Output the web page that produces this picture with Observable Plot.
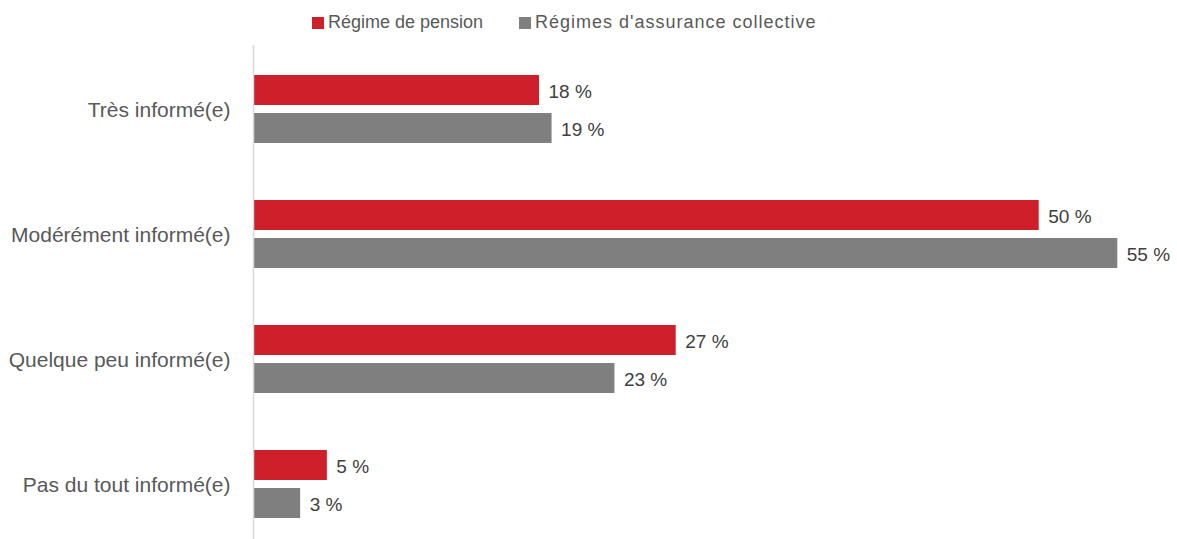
<!DOCTYPE html>
<html>
<head>
<meta charset="utf-8">
<script src="https://cdn.jsdelivr.net/npm/d3@7"></script>
<script src="https://cdn.jsdelivr.net/npm/@observablehq/plot@0.6"></script>
<style>
  html, body { margin: 0; padding: 0; background: #fff; }
  body { width: 1177px; height: 539px; overflow: hidden; font-family: "Liberation Sans", Arial, sans-serif; }
  #legend { position: relative; height: 45px; font-size: 18px; color: #595959; }
  #legend .item { position: absolute; top: 12px; display: flex; align-items: center; gap: 4px; white-space: nowrap; }
  #legend .sw { width: 12px; height: 12px; display: inline-block; }
</style>
</head>
<body>
<div id="legend"></div>
<div id="chart"></div>
<script>
const categories = ["Très informé(e)", "Modérément informé(e)", "Quelque peu informé(e)", "Pas du tout informé(e)"];
const series = ["Régime de pension", "Régimes d'assurance collective"];
const colors = ["#CE1F2A", "#7F7F7F"];
const pensionValues = [18.2, 50.0, 26.9, 4.7];
const assuranceValues = [19.0, 55.0, 23.0, 3.0];

const pension = categories.map((c, i) => ({category: c, value: pensionValues[i], label: Math.round(pensionValues[i]) + " %"}));
const assurance = categories.map((c, i) => ({category: c, value: assuranceValues[i], label: Math.round(assuranceValues[i]) + " %"}));

// legend
const legendLeft = [312, 519];
const legendSpacing = ["0px", "1px"];
const legend = document.getElementById("legend");
series.forEach((s, i) => {
  const item = document.createElement("span");
  item.className = "item";
  item.style.left = legendLeft[i] + "px";
  const sw = document.createElement("span");
  sw.className = "sw";
  sw.style.background = colors[i];
  const t = document.createElement("span");
  t.textContent = s;
  t.style.letterSpacing = legendSpacing[i];
  item.appendChild(sw);
  item.appendChild(t);
  legend.appendChild(item);
});

const barH = 30;
const gap = 8;
const band = barH * 2 + gap; // 68
const step = 125;
const pInner = (step - band) / step;

const chart = Plot.plot({
  width: 1177,
  height: 494,
  marginLeft: 253,
  marginRight: 0,
  marginTop: 0,
  marginBottom: 0,
  style: {fontFamily: "'Liberation Sans', Arial, sans-serif", background: "#fff"},
  x: {domain: [0, 58.8], axis: null},
  y: {domain: categories, range: [1.5, 501.5], paddingInner: pInner, paddingOuter: pInner / 2, align: 0.5, round: false, label: null},
  marks: [
    Plot.axisY({tickSize: 0, tickPadding: 23, fontSize: 21, fill: "#595959", label: null, dy: 1}),
    Plot.barX(pension, {y: "category", x: "value", fill: colors[0], insetBottom: barH + gap}),
    Plot.barX(assurance, {y: "category", x: "value", fill: colors[1], insetTop: barH + gap}),
    Plot.text(pension, {y: "category", x: "value", text: "label", textAnchor: "start", dx: 9, dy: -(barH + gap) / 2 + 1, fontSize: 19, fill: "#404040"}),
    Plot.text(assurance, {y: "category", x: "value", text: "label", textAnchor: "start", dx: 9, dy: (barH + gap) / 2 + 1, fontSize: 19, fill: "#404040"}),
    Plot.ruleX([0], {stroke: "#D9D9D9", strokeWidth: 1.5})
  ]
});
document.getElementById("chart").appendChild(chart);
</script>
</body>
</html>
